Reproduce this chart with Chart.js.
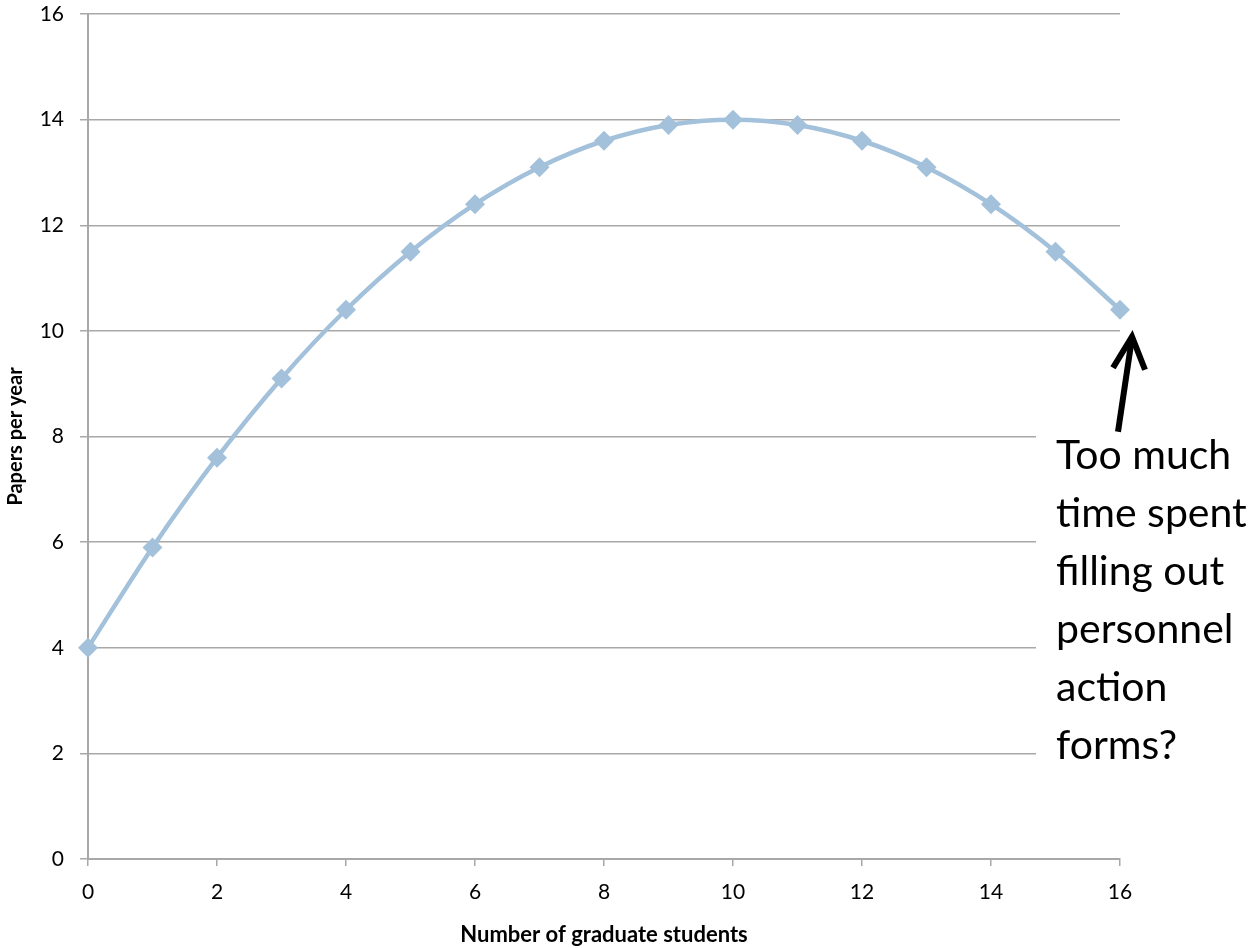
<!DOCTYPE html>
<html>
<head>
<meta charset="utf-8">
<script src="https://cdn.jsdelivr.net/npm/chart.js@4.4.0/dist/chart.umd.min.js"></script>
<style>
html,body{margin:0;padding:0;background:#fff;}
#wrap{width:1249px;height:948px;position:relative;}
</style>
</head>
<body>
<div id="wrap"><canvas id="c" width="1249" height="948"></canvas></div>
<script>
const students = [0,1,2,3,4,5,6,7,8,9,10,11,12,13,14,15,16];
const papers = [4,5.9,7.6,9.1,10.4,11.5,12.4,13.1,13.6,13.9,14,13.9,13.6,13.1,12.4,11.5,10.4];
const xTitle = 'Number of graduate students';
const yTitle = 'Papers per year';
const noteLines = ['Too much','time spent','filling out','personnel','action','forms?'];

const FONT = 'Lato, "DejaVu Sans", sans-serif';
const GRID = '#a8a8a8';

const notePlugin = {
  id: 'note',
  afterDraw(chart) {
    const ctx = chart.ctx;
    const xs = chart.scales.x, ys = chart.scales.y;
    ctx.save();
    const boxLeft = 1036, boxTop = ys.getPixelForValue(8) - 12, boxBottom = ys.getPixelForValue(2) + 14;
    ctx.fillStyle = '#fff';
    ctx.fillRect(boxLeft, boxTop, 1249 - boxLeft, boxBottom - boxTop);
    ctx.fillStyle = '#000';
    ctx.font = '41px ' + FONT;
    ctx.textBaseline = 'middle';
    ctx.textAlign = 'left';
    noteLines.forEach((t, i) => ctx.fillText(t, 1056, 456 + i * 58));
    const px = xs.getPixelForValue(students[students.length-1]);
    const py = ys.getPixelForValue(papers[papers.length-1]);
    const tipX = px + 12, tipY = py + 24;
    const tailX = px - 2, tailY = py + 122;
    ctx.strokeStyle = '#000';
    ctx.lineWidth = 6;
    ctx.lineCap = 'butt';
    ctx.beginPath();
    ctx.moveTo(tailX, tailY);
    ctx.lineTo(tipX, tipY + 4);
    ctx.stroke();
    ctx.lineJoin = 'miter';
    ctx.beginPath();
    ctx.moveTo(tipX - 19, tipY + 34);
    ctx.lineTo(tipX, tipY + 3);
    ctx.lineTo(tipX + 13, tipY + 36);
    ctx.stroke();
    ctx.restore();
  }
};

new Chart(document.getElementById('c'), {
  type: 'line',
  data: {
    datasets: [{
      data: students.map((s, i) => ({x: s, y: papers[i]})),
      borderColor: '#a3c1da',
      backgroundColor: '#a3c1da',
      borderWidth: 4.5,
      pointStyle: 'rectRot',
      pointRadius: 10,
      pointBorderWidth: 0,
      tension: 0.4,
      cubicInterpolationMode: 'monotone',
      fill: false,
      clip: false
    }]
  },
  options: {
    responsive: false,
    animation: false,
    devicePixelRatio: 1,
    layout: { padding: { top: 14, right: 129, left: 4, bottom: 0 } },
    plugins: { legend: { display: false }, tooltip: { enabled: false } },
    scales: {
      x: {
        type: 'linear', min: 0, max: 16,
        ticks: { stepSize: 2, color: '#000', font: { family: FONT, size: 21 }, padding: 14 },
        grid: { drawOnChartArea: false, drawTicks: true, tickLength: 7, color: GRID, lineWidth: 1.5 },
        border: { color: GRID, width: 2 },
        title: { display: true, text: xTitle, color: '#000', font: { family: FONT, size: 22, weight: 'bold' }, padding: { top: 4, bottom: 0 } },
        afterFit(s) { s.height = 948 - 859; s.paddingLeft = 0; s.paddingRight = 0; }
      },
      y: {
        type: 'linear', min: 0, max: 16,
        ticks: { stepSize: 2, color: '#000', font: { family: FONT, size: 21 }, padding: 16 },
        grid: { color: GRID, lineWidth: 1.5, drawTicks: true, tickLength: 8 },
        border: { color: GRID, width: 2 },
        title: { display: true, text: yTitle, color: '#000', font: { family: FONT, size: 20, weight: 'bold' }, padding: { top: 0, bottom: 16 } },
        afterFit(s) { s.width = 84; s.paddingTop = 0; s.paddingBottom = 0; }
      }
    }
  },
  plugins: [notePlugin]
});
</script>
</body>
</html>
